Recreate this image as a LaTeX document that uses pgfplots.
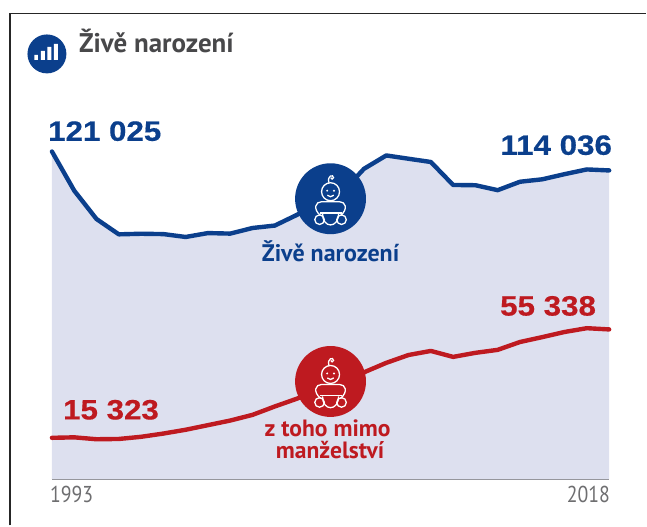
\documentclass[border=0pt]{standalone}
\usepackage{pgfplots}
\pgfplotsset{compat=1.18}
\usepackage{fontspec}
\setmainfont{PT Sans}
\newfontfamily\numfont[FakeStretch=1.12,FakeBold=0.5]{Liberation Sans}
\newfontfamily\tickfont[FakeStretch=0.86]{PT Sans}
\definecolor{cblue}{HTML}{0B3F8C}
\definecolor{cred}{HTML}{BE1A20}
\definecolor{cfill}{HTML}{DDE0EF}
\definecolor{cgrey}{HTML}{6E6E70}
\definecolor{ctitle}{HTML}{48484A}
\pgfplotstableread{
year births
1993 121025
1994 106579
1995 96097
1996 90446
1997 90657
1998 90535
1999 89471
2000 90910
2001 90715
2002 92786
2003 93685
2004 97664
2005 102211
2006 105831
2007 114632
2008 119570
2009 118348
2010 117153
2011 108673
2012 108576
2013 106751
2014 109860
2015 110764
2016 112663
2017 114405
2018 114036
}\birthsdata
\pgfplotstableread{
year births
1993 15323
1994 15500
1995 14800
1996 14900
1997 15700
1998 16900
1999 18300
2000 20000
2001 21700
2002 23800
2003 26900
2004 29800
2005 33500
2006 37000
2007 39500
2008 43000
2009 45900
2010 47400
2011 45200
2012 46700
2013 47800
2014 50700
2015 52500
2016 54400
2017 55800
2018 55338
}\outdata
\newcommand{\baby}[2]{% x, y
  \begin{scope}[shift={(#1,#2)},white,line width=1.3pt]
    \draw (0,7) circle[radius=9];
    \draw (-1.5,16) .. controls (-4,23) and (3,25) .. (3,21) .. controls (3,19) and (0,19.5) .. (0.3,21);
    \fill (-3.4,8) circle[radius=1.1] (3.4,8) circle[radius=1.1];
    \draw (-3.2,3.5) .. controls (-1,1.5) and (1,1.5) .. (3.2,3.5);
    \draw (-10,-17) .. controls (-18,-10) and (-15,-3) .. (-9,-3) -- (9,-3) .. controls (15,-3) and (18,-10) .. (10,-17);
    \draw[line width=1.7pt] (-11,-14) -- (11,-14);
    \draw (-8,-15) .. controls (-8,-30) and (8,-30) .. (8,-15);
    \draw (-11,-21) circle[radius=4.8];
    \draw (11,-21) circle[radius=4.8];
  \end{scope}}
\begin{document}
\begin{tikzpicture}[x=1pt,y=1pt]
\path (0,0) rectangle (647,526);
% frame
\draw[line width=1.8pt,black!85] (10,0) -- (10,512.5) -- (647,512.5);
\begin{axis}[
  at={(52pt,46pt)},anchor=south west,
  scale only axis,width=558pt,height=434pt,
  xmin=1993,xmax=2018,ymin=0,ymax=160000,
  axis x line*=bottom,axis y line=none,
  axis line style={cgrey,line width=1.8pt,-},
  xtick=\empty,
  clip=false,
]
\addplot[draw=none,fill=cfill] table[x=year,y=births]{\birthsdata} \closedcycle;
\addplot[cblue,line width=4.4pt,line join=round,line cap=round] table[x=year,y=births]{\birthsdata};
\addplot[cred,line width=4.4pt,line join=round,line cap=round] table[x=year,y=births]{\outdata};
\end{axis}
\node[anchor=base west,font=\tickfont\fontsize{23}{23}\selectfont,text=cgrey,inner sep=0] at (50,23) {1993};
\node[anchor=base east,font=\tickfont\fontsize{23}{23}\selectfont,text=cgrey,inner sep=0] at (611,23) {2018};
% title
\fill[cblue] (47,472) circle[radius=19.5];
\fill[white] (34.5,466) rectangle (38,471) (41,466) rectangle (45,475) (47.5,466) rectangle (51.5,479) (54,466) rectangle (58,482);
\node[anchor=base west,font=\bfseries\fontsize{27}{27}\selectfont,text=ctitle,inner sep=0] at (79,473) {Živě narození};
% values
\node[anchor=base west,font=\numfont\bfseries\fontsize{28}{28}\selectfont,text=cblue,inner sep=0] at (48,385) {121 025};
\node[anchor=base east,font=\numfont\bfseries\fontsize{28}{28}\selectfont,text=cblue,inner sep=0] at (613,371) {114 036};
\node[anchor=base west,font=\numfont\bfseries\fontsize{28}{28}\selectfont,text=cred,inner sep=0] at (63,106) {15 323};
\node[anchor=base east,font=\numfont\bfseries\fontsize{28}{28}\selectfont,text=cred,inner sep=0] at (597,210) {55 338};
% icons
\fill[cblue] (331,327) circle[radius=35.5];
\baby{331}{327}
\fill[cred] (331,144) circle[radius=35.5];
\baby{331}{144}
% labels
\node[font=\bfseries\fontsize{24}{24}\selectfont,text=cblue,inner sep=0,anchor=base] at (331,264) {Živě narození};
\node[font=\bfseries\fontsize{23.6}{24}\selectfont,text=cred,inner sep=0,anchor=base] at (328,89) {z toho mimo};
\node[font=\bfseries\fontsize{23.6}{24}\selectfont,text=cred,inner sep=0,anchor=base] at (330.5,67) {manželství};
\end{tikzpicture}
\end{document}
